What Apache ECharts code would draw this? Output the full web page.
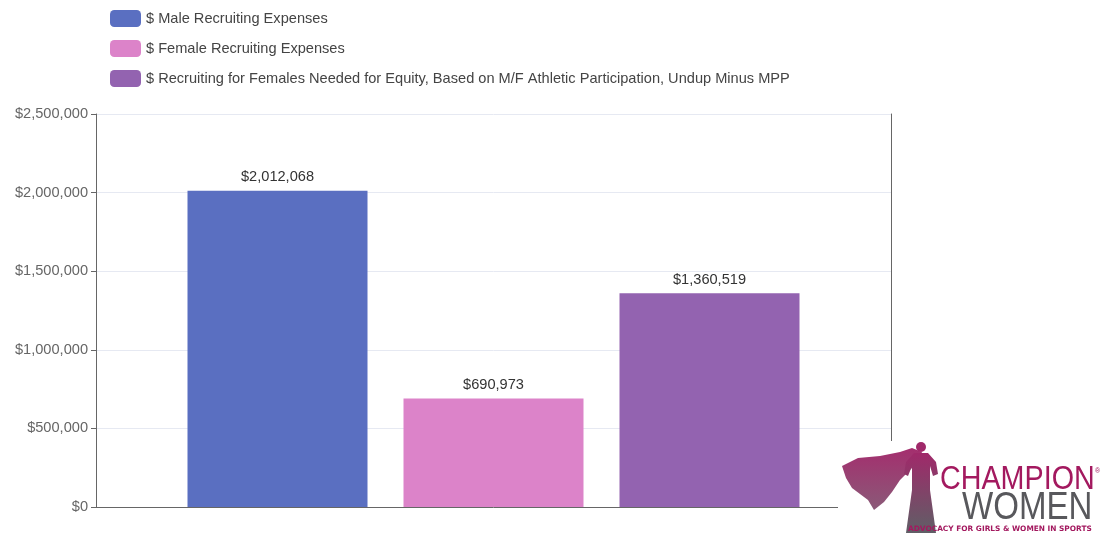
<!DOCTYPE html>
<html><head><meta charset="utf-8">
<script src="https://cdn.jsdelivr.net/npm/echarts@6/dist/echarts.min.js"></script>
<style>html,body{margin:0;padding:0;background:#fff}#c{width:1108px;height:533px}</style>
</head><body><div id="c"></div>
<script>
const categories = ['Recruiting'];
const seriesNames = ['$ Male Recruiting Expenses', '$ Female Recruiting Expenses', '$ Recruiting for Females Needed for Equity, Based on M/F Athletic Participation, Undup Minus MPP'];
const maleValues = [2012068];
const femaleValues = [690973];
const equityValues = [1360519];
const colors = ['#5a6fc1', '#dc83c9', '#9363b0'];
const fmt = v => '$' + Number(v).toLocaleString('en-US');
const font = 'Liberation Sans, Arial, Helvetica, sans-serif';
const FS = 14.6;
const chart = echarts.init(document.getElementById('c'));
const mk = (name, data, color) => ({
  name, type: 'bar', data, barWidth: 180, barGap: '20%',
  itemStyle: { color },
  label: { show: true, position: 'top', distance: 6, color: '#333', fontSize: FS, fontFamily: font, formatter: p => fmt(p.value) }
});
chart.setOption({
  animation: false,
  color: colors,
  legend: {
    orient: 'vertical', left: 105, top: 5, itemWidth: 31, itemHeight: 17, itemGap: 13,
    icon: 'roundRect', textStyle: { color: '#444', fontSize: FS, fontFamily: font }
  },
  grid: { left: 96, right: 217, top: 114, bottom: 26, containLabel: false },
  xAxis: { type: 'category', data: categories, axisLine: { lineStyle: { color: '#666' } }, axisTick: { show: false }, axisLabel: { show: false } },
  yAxis: [{
    type: 'value', min: 0, max: 2500000, interval: 500000,
    axisLine: { show: true, lineStyle: { color: '#666' } },
    axisTick: { show: true, length: 5, lineStyle: { color: '#666' } },
    axisLabel: { color: '#666', fontSize: FS, fontFamily: font, margin: 8, formatter: v => fmt(v) },
    splitLine: { lineStyle: { color: '#e6e9f2' } }
  }, {
    type: 'value', min: 0, max: 2500000, interval: 500000, position: 'right',
    axisLine: { show: true, lineStyle: { color: '#666' } }, axisTick: { show: false }, axisLabel: { show: false }, splitLine: { show: false }
  }],
  series: [mk(seriesNames[0], maleValues, colors[0]), mk(seriesNames[1], femaleValues, colors[1]), mk(seriesNames[2], equityValues, colors[2])],
  graphic: [
    { type: 'rect', z: 100, shape: { x: 838, y: 441, width: 270, height: 92 }, style: { fill: '#fff' } },
    { type: 'polygon', z: 101, shape: { points: [[842,466],[858,458],[880,456],[900,452],[912,448],[922,452],[918,462],[910,470],[900,480],[892,492],[884,502],[874,510],[868,500],[860,494],[852,488],[846,478]] },
      style: { fill: { type: 'linear', x: 0, y: 0, x2: 0, y2: 1, colorStops: [{ offset: 0, color: '#a42e6e' }, { offset: 1, color: '#8a5a78' }] } } },
    { type: 'circle', z: 102, shape: { cx: 921, cy: 447, r: 5 }, style: { fill: '#a0296a' } },
    { type: 'polygon', z: 102, shape: { points: [[914,453],[928,453],[936,462],[938,474],[933,476],[930,466],[930,490],[936,533],[906,533],[912,490],[912,466],[908,476],[904,474],[906,462]] },
      style: { fill: { type: 'linear', x: 0, y: 0, x2: 0, y2: 1, colorStops: [{ offset: 0, color: '#a0296a' }, { offset: 1, color: '#5f5f66' }] } } },
    { type: 'text', z: 103, x: 940, y: 463, scaleX: 0.87, style: { text: 'CHAMPION', fill: '#a3195f', font: '33px "Liberation Sans", sans-serif' } },
    { type: 'text', z: 103, left: 1095, top: 468, style: { text: '®', fill: '#a3195f', font: '7px sans-serif' } },
    { type: 'text', z: 103, x: 962, y: 490, scaleX: 0.87, style: { text: 'WOMEN', fill: '#58585c', font: '38px "Liberation Sans", sans-serif' } },
    { type: 'text', z: 103, left: 908, top: 526, style: { text: 'ADVOCACY FOR GIRLS & WOMEN IN SPORTS', fill: '#a3195f', font: 'bold 7.4px "DejaVu Sans", sans-serif' } }
  ]
});
</script></body></html>
